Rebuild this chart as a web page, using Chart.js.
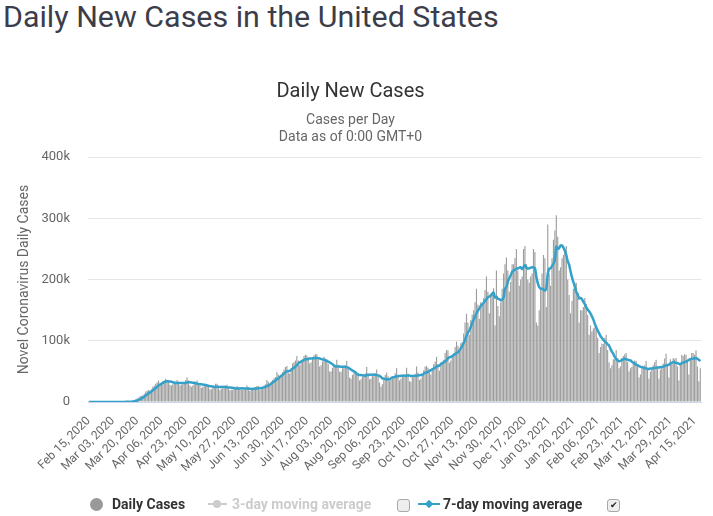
<!DOCTYPE html>
<html>
<head>
<meta charset="utf-8">
<title>Daily New Cases in the United States</title>
<script src="https://cdn.jsdelivr.net/npm/chart.js@4.4.1/dist/chart.umd.min.js"></script>
<style>
  body { margin: 0; background: #fff; font-family: Roboto, "Noto Sans", sans-serif; }
  #wrap { position: relative; width: 713px; height: 516px; overflow: hidden; }
  #pageTitle { position: absolute; left: 3px; top: 0; margin: 0; font-size: 30.4px; line-height: 34px; font-weight: 400; color: #3b3d4a; white-space: nowrap; }
  #chart { position: absolute; left: 0; top: 0; }
  .lg { position: absolute; top: 496px; font-size: 14px; line-height: 17px; font-weight: 700; white-space: nowrap; }
  .box { position: absolute; top: 499px; width: 11px; height: 11px; border: 1px solid #a8a8a8; border-radius: 3px; background: #eee; font-size: 9px; line-height: 11px; text-align: center; color: #222; }
</style>
</head>
<body>
<div id="wrap">
  <h1 id="pageTitle">Daily New Cases in the United States</h1>
  <canvas id="chart" width="713" height="516"></canvas>

  <!-- legend -->
  <div style="position:absolute;left:90px;top:498px;width:13px;height:13px;border-radius:50%;background:#999;"></div>
  <div class="lg" style="left:112px;color:#333;">Daily Cases</div>
  <div style="position:absolute;left:208px;top:503px;width:19px;height:2px;background:#ccc;"></div>
  <div style="position:absolute;left:213px;top:500px;width:8px;height:8px;border-radius:50%;background:#ccc;"></div>
  <div class="lg" style="left:232px;color:#ccc;">3-day moving average</div>
  <div class="box" style="left:397px;"></div>
  <div style="position:absolute;left:418px;top:503px;width:22px;height:2px;background:#33a1c9;"></div>
  <div style="position:absolute;left:426px;top:501px;width:6px;height:6px;background:#33a1c9;transform:rotate(45deg);"></div>
  <div class="lg" style="left:443px;color:#333;">7-day moving average</div>
  <div class="box" style="left:607px;">&#10004;</div>
</div>
<script>
// Daily new cases in thousands, one row per week (Sat..Fri), starting Sat Feb 15, 2020
const dailyCasesK = [
  0, 0, 0, 0, 0, 0, 0,
  0, 0, 0.02, 0, 0.01, 0, 0,
  0.01, 0.01, 0.02, 0.03, 0.03, 0.06, 0.1,
  0.12, 0.12, 0.18, 0.3, 0.27, 0.45, 0.5,
  0.6, 0.8, 1.2, 1.7, 2.7, 4.4, 5.6,
  7.0, 9.4, 10.1, 11.1, 13.4, 17.2, 18.3,
  19.5, 18.9, 20.9, 25.3, 26.5, 29.9, 32.3,
  35, 29, 31, 34, 35, 38, 36,
  33, 28, 27, 29, 31, 33, 36,
  33, 27, 28, 29, 31, 36, 40,
  35, 27, 25, 27, 30, 31, 35,
  30, 26, 23, 25, 27, 29, 29,
  27, 21, 21, 23, 23, 30, 30,
  26, 19, 22, 22, 24, 27, 28,
  24, 19, 20, 20, 22, 23, 26,
  24, 20, 21, 20, 20, 22, 27,
  24, 18, 19, 20, 23, 24, 26,
  26, 19, 21, 24, 27, 29, 36,
  33, 28, 33, 36, 39, 41, 49,
  45, 42, 45, 49, 53, 57, 59,
  48, 46, 55, 63, 65, 68, 75,
  68, 60, 64, 70, 75, 77, 76,
  72, 63, 65, 72, 76, 78, 78,
  70, 58, 60, 66, 74, 71, 70,
  62, 50, 50, 56, 58, 61, 69,
  61, 50, 49, 55, 57, 60, 67,
  54, 40, 38, 44, 47, 50, 49,
  46, 35, 37, 41, 45, 47, 57,
  47, 37, 38, 44, 42, 47, 53,
  43, 32, 25, 29, 38, 44, 48,
  42, 34, 36, 39, 41, 47, 55,
  44, 35, 38, 41, 42, 45, 56,
  46, 34, 33, 44, 40, 46, 58,
  48, 36, 38, 45, 52, 58, 59,
  56, 48, 45, 55, 62, 66, 74,
  62, 51, 63, 66, 69, 80, 85,
  84, 64, 68, 75, 80, 90, 99,
  92, 84, 96, 98, 112, 130, 144,
  130, 110, 134, 143, 150, 163, 185,
  159, 136, 163, 160, 170, 183, 205,
  180, 145, 175, 178, 186, 125, 215,
  157, 140, 163, 185, 210, 225, 236,
  215, 180, 196, 225, 225, 235, 250,
  215, 190, 200, 205, 250, 255, 225,
  200, 195, 205, 210, 250, 245, 130,
  125, 150, 185, 210, 240, 235, 155,
  290, 210, 190, 235, 265, 280, 305,
  270, 215, 220, 235, 240, 245, 255,
  200, 175, 145, 165, 185, 195, 195,
  170, 130, 150, 150, 155, 170, 160,
  142, 110, 125, 115, 120, 122, 121,
  105, 80, 90, 95, 95, 105, 110,
  85, 65, 55, 60, 70, 70, 85,
  72, 55, 58, 72, 75, 78, 80,
  65, 50, 55, 57, 65, 68, 67,
  60, 40, 45, 55, 58, 60, 67,
  55, 38, 50, 55, 60, 65, 69,
  58, 38, 53, 58, 63, 71, 79,
  62, 40, 70, 62, 72, 70, 72,
  58, 35, 62, 77, 75, 78, 77,
  68, 45, 70, 80, 80, 77, 84,
  58, 34, 55
];

const yTicksK = [0, 100, 200, 300, 400];
const labelStep = 17;
const monthNames = ['Jan', 'Feb', 'Mar', 'Apr', 'May', 'Jun', 'Jul', 'Aug', 'Sep', 'Oct', 'Nov', 'Dec'];

// one category per day
const startDate = Date.UTC(2020, 1, 15);
const dates = dailyCasesK.map((_, i) => {
  const d = new Date(startDate + i * 86400000);
  return monthNames[d.getUTCMonth()] + ' ' + String(d.getUTCDate()).padStart(2, '0') + ', ' + d.getUTCFullYear();
});

// trailing 7-day average of the daily numbers
const avg7 = dailyCasesK.map((v, i) => {
  const win = dailyCasesK.slice(Math.max(0, i - 6), i + 1);
  return win.reduce((a, b) => a + b, 0) / win.length;
});

Chart.defaults.font.family = 'Roboto, "Noto Sans", sans-serif';

const ctx = document.getElementById('chart').getContext('2d');
new Chart(ctx, {
  type: 'bar',
  data: {
    labels: dates,
    datasets: [
      {
        type: 'line',
        label: '7-day moving average',
        data: avg7,
        borderColor: '#33a1c9',
        borderWidth: 2.5,
        pointRadius: 0,
        tension: 0.3,
        order: 0
      },
      {
        label: 'Daily Cases',
        data: dailyCasesK,
        backgroundColor: '#9e9e9e',
        borderWidth: 0,
        barPercentage: 0.8,
        categoryPercentage: 1,
        order: 1
      }
    ]
  },
  options: {
    responsive: false,
    animation: false,
    layout: { padding: { top: 80, right: 12, left: 0, bottom: 0 } },
    plugins: {
      legend: { display: false },
      tooltip: { enabled: false },
      title: {
        display: true,
        text: 'Daily New Cases',
        color: '#333',
        font: { size: 20, weight: 'normal' },
        padding: { top: 0, bottom: 7.5 }
      },
      subtitle: {
        display: true,
        text: ['Cases per Day', 'Data as of 0:00 GMT+0'],
        color: '#666',
        font: { size: 14, lineHeight: 1.22 },
        padding: { top: 0, bottom: 11.5 }
      }
    },
    scales: {
      x: {
        grid: { display: false },
        border: { display: true, color: '#ccd6eb', width: 1 },
        afterFit: s => { s.height = 114; },
        ticks: {
          autoSkip: false,
          maxRotation: 45,
          minRotation: 45,
          padding: 4,
          color: '#666',
          font: { size: 12 },
          callback: function (value, index) {
            return index % labelStep === 0 ? this.getLabelForValue(value) : null;
          }
        }
      },
      y: {
        min: yTicksK[0],
        max: yTicksK[yTicksK.length - 1],
        afterFit: s => { s.width = 88; },
        grid: { color: '#e6e6e6', drawTicks: false },
        border: { display: false },
        ticks: {
          stepSize: 100,
          padding: 18,
          color: '#666',
          font: { size: 13 },
          callback: v => v === 0 ? '0' : v + 'k'
        },
        title: {
          display: true,
          text: 'Novel Coronavirus Daily Cases',
          color: '#666',
          font: { size: 14 },
          padding: { top: 16, bottom: 0 }
        }
      }
    }
  }
});
</script>
</body>
</html>
